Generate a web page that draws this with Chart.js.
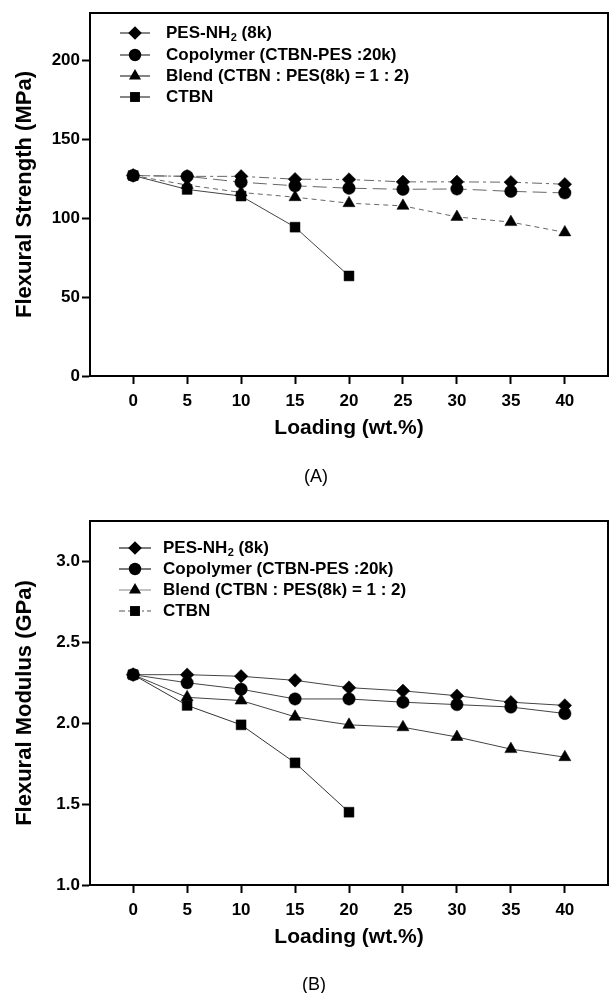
<!DOCTYPE html>
<html><head><meta charset="utf-8">
<script src="https://cdn.jsdelivr.net/npm/chart.js@4/dist/chart.umd.min.js"></script>
<style>
html,body{margin:0;padding:0;background:#fff;overflow:hidden;}
#wrap{position:relative;width:609px;height:993px;overflow:hidden;}
canvas{position:absolute;left:0;display:block;}
</style></head><body>
<div id="wrap">
<canvas id="cA" width="609" height="493" style="top:0;width:609px;height:493px"></canvas>
<canvas id="cB" width="609" height="500" style="top:493px;width:609px;height:500px"></canvas>
</div>
<script>
// ---- data ----
const loadings = [0, 5, 10, 15, 20, 25, 30, 35, 40];
const xTicks = [0, 5, 10, 15, 20, 25, 30, 35, 40];
const seriesNames = ['PES-NH2 (8k)', 'Copolymer (CTBN-PES :20k)', 'Blend (CTBN : PES(8k) = 1 : 2)', 'CTBN'];

const strengthPES   = [127, 126.5, 126.5, 124.7, 124.5, 123, 123, 122.8, 121.5];
const strengthCopo  = [127, 126.5, 122.8, 120.5, 119, 118.3, 118.5, 117, 116];
const strengthBlend = [127, 121, 116.3, 113.3, 109.5, 107.8, 100.8, 97.5, 91];
const strengthCTBN  = [127, 118.2, 114, 94.3, 63.4];
const yTicksA = [0, 50, 100, 150, 200];

const modulusPES   = [2.30, 2.30, 2.29, 2.265, 2.22, 2.20, 2.17, 2.13, 2.11];
const modulusCopo  = [2.30, 2.25, 2.21, 2.15, 2.15, 2.13, 2.115, 2.10, 2.06];
const modulusBlend = [2.30, 2.16, 2.14, 2.04, 1.99, 1.975, 1.915, 1.84, 1.79];
const modulusCTBN  = [2.30, 2.11, 1.99, 1.755, 1.45];
const yTicksB = [1.0, 1.5, 2.0, 2.5, 3.0];

// ---- styling ----
const FONT = "'Liberation Sans', Arial, sans-serif";
const markers = [
  {style:'rectRot', r:6.8},
  {style:'circle', r:6.2},
  {style:'triangle', r:7},
  {style:'rect', r:7}
];

function pts(vals){ return vals.map((v,i)=>({x: loadings[i], y: v})); }

function drawMarker(ctx, style, x, y, r){
  ctx.beginPath();
  if (style === 'circle') ctx.arc(x, y, r, 0, Math.PI*2);
  else if (style === 'rectRot'){ ctx.moveTo(x-r,y); ctx.lineTo(x,y-r); ctx.lineTo(x+r,y); ctx.lineTo(x,y+r); ctx.closePath(); }
  else if (style === 'triangle'){ ctx.moveTo(x, y-r); ctx.lineTo(x+0.866*r, y+0.5*r); ctx.lineTo(x-0.866*r, y+0.5*r); ctx.closePath(); }
  else { const s = Math.SQRT1_2*r; ctx.rect(x-s, y-s, 2*s, 2*s); }
  ctx.fillStyle = '#000'; ctx.fill();
}

function drawLabel(ctx, text, x, y){
  ctx.fillStyle = '#000';
  ctx.textBaseline = 'middle';
  ctx.textAlign = 'left';
  ctx.font = "bold 17px " + FONT;
  const idx = text.indexOf('NH2');
  if (idx >= 0){
    const a = text.slice(0, idx+2), b = text.slice(idx+3);
    ctx.fillText(a, x, y);
    let w = ctx.measureText(a).width;
    ctx.font = "bold 11px " + FONT;
    ctx.fillText('2', x+w+0.5, y+5);
    w += ctx.measureText('2').width + 0.5;
    ctx.font = "bold 17px " + FONT;
    ctx.fillText(b, x+w, y);
  } else ctx.fillText(text, x, y);
}

function decoPlugin(cfg){
  return {
    id: 'deco',
    afterDraw(chart){
      const ctx = chart.ctx, a = chart.chartArea;
      ctx.save();
      ctx.strokeStyle = '#000'; ctx.lineWidth = 2;
      ctx.beginPath();
      ctx.moveTo(a.left, a.top); ctx.lineTo(a.right, a.top); ctx.lineTo(a.right, a.bottom);
      ctx.stroke();
      seriesNames.forEach((name, i) => {
        const y = cfg.rows[i];
        const ls = cfg.legendLines[i];
        ctx.save();
        ctx.strokeStyle = ls.color; ctx.lineWidth = 1.2;
        ctx.setLineDash(ls.dash || []);
        ctx.beginPath(); ctx.moveTo(cfg.lx0, y); ctx.lineTo(cfg.lx1, y); ctx.stroke();
        ctx.restore();
        drawMarker(ctx, markers[i].style, cfg.mx, y, markers[i].r);
        drawLabel(ctx, name, cfg.tx, y);
      });
      ctx.fillStyle = '#000';
      ctx.font = "18px " + FONT;
      ctx.textAlign = 'center'; ctx.textBaseline = 'middle';
      ctx.fillText(cfg.panel, cfg.panelX, cfg.panelY);
      ctx.restore();
    }
  };
}

function makeChart(id, series, lineStyles, yMin, yMax, yTicks, yFmt, yTitle, pad, deco){
  const datasets = series.map((vals, i) => ({
    label: seriesNames[i],
    data: pts(vals),
    borderColor: lineStyles[i].color,
    borderWidth: 1,
    borderDash: lineStyles[i].dash || [],
    pointStyle: markers[i].style,
    pointRadius: markers[i].r,
    pointHoverRadius: markers[i].r,
    pointBackgroundColor: '#000',
    pointBorderColor: '#000',
    pointBorderWidth: 0.5,
    fill: false,
    tension: 0
  }));
  return new Chart(document.getElementById(id), {
    type: 'line',
    data: { datasets },
    options: {
      responsive: false, maintainAspectRatio: false, animation: false, devicePixelRatio: 1,
      layout: { autoPadding: false, padding: { top: pad.top, right: 1, bottom: pad.bottom, left: 0 } },
      plugins: { legend: { display: false }, tooltip: { enabled: false } },
      scales: {
        x: {
          type: 'linear', min: -4, max: 44,
          afterBuildTicks: s => { s.ticks = xTicks.map(v => ({ value: v })); },
          afterFit: s => { s.height = 65; },
          grid: { display: true, drawOnChartArea: false, drawTicks: true, tickLength: 8, tickWidth: 2, tickColor: '#000' },
          border: { display: true, color: '#000', width: 2 },
          ticks: { color: '#000', font: { family: FONT, size: 17, weight: 'bold' }, padding: 7, maxRotation: 0, autoSkip: false },
          title: { display: true, text: 'Loading (wt.%)', color: '#000', font: { family: FONT, size: 21, weight: 'bold' }, padding: { top: 0, bottom: 0 } }
        },
        y: {
          type: 'linear', min: yMin, max: yMax,
          afterBuildTicks: s => { s.ticks = yTicks.map(v => ({ value: v })); },
          afterFit: s => { s.width = 90; },
          grid: { display: true, drawOnChartArea: false, drawTicks: true, tickLength: 8, tickWidth: 2, tickColor: '#000' },
          border: { display: true, color: '#000', width: 2 },
          ticks: { color: '#000', font: { family: FONT, size: 17, weight: 'bold' }, padding: 2, callback: v => yFmt(v) },
          title: { display: true, text: yTitle, color: '#000', font: { family: FONT, size: 22, weight: 'bold' }, padding: { top: 12, bottom: 0 } }
        }
      }
    },
    plugins: [decoPlugin(deco)]
  });
}

const lineA = [
  {color:'#666', dash:[10,4,3,4]},
  {color:'#666', dash:[14,6]},
  {color:'#666', dash:[5,4]},
  {color:'#444'}
];
const lineB = [
  {color:'#444'}, {color:'#444'}, {color:'#444'}, {color:'#333'}
];

makeChart('cA', [strengthPES, strengthCopo, strengthBlend, strengthCTBN], lineA,
  0, 230, yTicksA, v => String(v), 'Flexural Strength (MPa)', {top:13, bottom:52},
  {rows:[33,55,76,97], lx0:120, lx1:150, mx:135, tx:166, panel:'(A)', panelX:316, panelY:477,
   legendLines:[{color:'#333'},{color:'#333'},{color:'#333'},{color:'#333'}]});

makeChart('cB', [modulusPES, modulusCopo, modulusBlend, modulusCTBN], lineB,
  1.0, 3.25, yTicksB, v => Number(v).toFixed(1), 'Flexural Modulus (GPa)', {top:28, bottom:43},
  {rows:[55,76,97,118], lx0:119, lx1:151, mx:135, tx:163, panel:'(B)', panelX:314, panelY:492,
   legendLines:[{color:'#222'},{color:'#222'},{color:'#999'},{color:'#555', dash:[6,3,2,3]}]});
</script>
</body></html>
